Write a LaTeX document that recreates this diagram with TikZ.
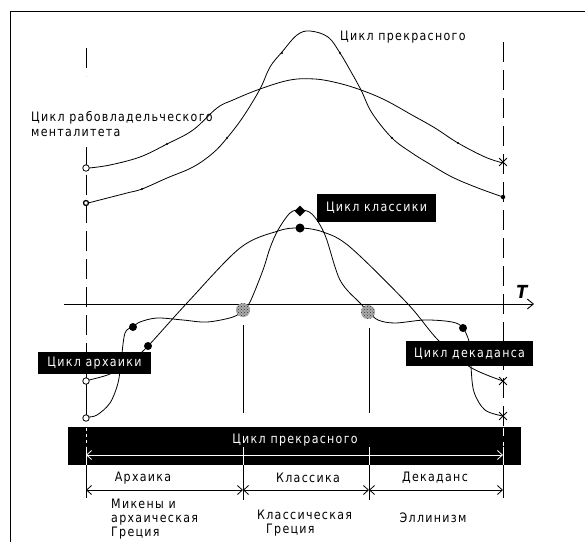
\documentclass[tikz,border=0pt]{standalone}
\usepackage{fontspec}
\setmainfont{DejaVu Sans}[FakeStretch=0.85,LetterSpace=10]
\newfontfamily\tfont{DejaVu Sans}[FakeStretch=0.9]
\usetikzlibrary{arrows.meta,shapes.geometric,shapes.misc,patterns}
\tikzset{
  crv/.style={line width=0.8pt},
  guide/.style={line width=0.9pt, dash pattern=on 20pt off 8pt},
  thin/.style={line width=0.8pt},
  opendot/.style={circle, draw, fill=white, inner sep=0pt, minimum size=6.5pt, line width=0.8pt},
  blackdot/.style={circle, fill=black, inner sep=0pt, minimum size=8pt},
  tinydot/.style={circle, fill=black, inner sep=0pt, minimum size=2.4pt},
  xmark/.style={cross out, draw, inner sep=0pt, minimum size=7pt, line width=0.8pt},
  greydot/.style={circle, fill=gray!65, postaction={pattern=crosshatch dots, pattern color=black!80}, inner sep=0pt, minimum size=14pt},
  darkbox/.style={fill=black, text=white, inner sep=0pt, font=\fontsize{13}{15}\selectfont},
  lbl/.style={inner sep=0pt, font=\fontsize{13}{15}\selectfont},
  dim/.style={line width=0.8pt, {Straight Barb[length=5pt,width=9pt]}-{Straight Barb[length=5pt,width=9pt]}},
}
\begin{document}
\begin{tikzpicture}[x=1pt,y=-1pt]
\useasboundingbox (0,0) rectangle (585,542);
% frame
\coordinate (fa) at (10,542);
\coordinate (fb) at (10,11);
\coordinate (fc) at (585,11);
\draw[line width=1pt] (fa) -- (fb) -- (fc);

% guide lines
\coordinate (lg0) at (86,48);
\coordinate (lg00) at (86,76);
\coordinate (lg1) at (86,147);
\coordinate (lg2) at (86,427);
\coordinate (rg1) at (503,42);
\coordinate (rg2) at (503,427);
\draw[guide] (lg0) -- (lg00);
\draw[guide] (lg1) -- (lg2);
\draw[guide] (rg1) -- (rg2);

% markers
\node[opendot] (m1) at (86,168) {};
\node[opendot, minimum size=5pt, line width=1.3pt] (m2) at (86,203) {};
\node[opendot] (m3) at (86,381) {};
\node[opendot] (m4) at (86,418) {};
\draw[thin] (m3) -- (m4);
\node[xmark] (e1) at (503,162) {};
\node[circle, fill=black, inner sep=0pt, minimum size=4.5pt] (e2) at (503,197) {};
\node[xmark] (e3) at (503,381) {};
\node[xmark] (e4) at (503,416) {};

% upper curves
\draw[crv] plot[smooth, tension=0.6] coordinates {(89,168) (110,165) (140,157) (167,144) (193,130) (217,108) (233,100) (260,89) (290,80) (315,79) (338,83) (361,90) (385,100) (412,115) (435,128) (458,143) (485,157) (503,163)};
\draw[crv] plot[smooth, tension=0.6] coordinates {(88,203) (127,193) (142,189) (167,178) (193,167) (213,153) (227,138) (243,117) (260,89) (270,67) (282,52) (297,35) (310,31) (328,37) (340,53) (350,70) (361,90) (372,113) (392,138) (412,153) (428,163) (452,177) (478,188) (503,197)};
\foreach \p/\n in {{(282,53)}/d1,{(340,53)}/d2,{(227,138)}/d3,{(392,138)}/d4,{(167,144)}/d5,{(142,189)}/d6,{(458,143)}/d7}
  \node[tinydot] (\n) at \p {};

% axis
\coordinate (ax1) at (64,304);
\coordinate (ax2) at (534,304);
\draw[line width=0.9pt, -{Straight Barb[length=6pt,width=10pt]}] (ax1) -- (ax2);
\node[inner sep=0pt, font=\tfont\bfseries\itshape\fontsize{18}{18}\selectfont] (T) at (522,292) {T};

% vertical lines
\coordinate (v1a) at (243,325);
\coordinate (v1b) at (243,413);
\coordinate (v2a) at (369,328);
\coordinate (v2b) at (369,413);
\draw[thin] (v1a) -- (v1b);
\draw[thin] (v2a) -- (v2b);

% lower curves
\draw[crv] plot[smooth, tension=0.55] coordinates {(89,380) (110,374) (130,362) (148,346) (187,303) (240,248) (278,231) (300,228) (323,232) (350,247) (407,303) (438,340) (470,367) (503,381)};
\draw[crv] plot[smooth, tension=0.55] coordinates {(88,417) (97,415) (110,403) (118,383) (121,362) (125,333) (133,327) (140,322) (157,318) (183,320) (207,322) (233,317) (243,310) (250,302) (263,270) (270,248) (278,230) (290,213) (300,210) (312,214) (325,235) (340,280) (360,303) (369,312) (378,320) (395,323) (425,320) (452,322) (463,328) (470,345) (471,367) (474,392) (485,410) (503,416)};

\node[greydot] (g1) at (243,310) {};
\node[greydot] (g2) at (368,312) {};
\node[blackdot] (b1) at (133,327) {};
\node[blackdot] (b2) at (148,346) {};
\node[blackdot] (b3) at (463,328) {};
\node[blackdot, minimum size=9pt] (b4) at (300,228) {};
\node[diamond, fill=black, inner sep=0pt, minimum size=11pt] (b5) at (300,211) {};

% labels
\node[lbl, anchor=west] (t1) at (340,37) {Цикл прекрасного};
\node[lbl, anchor=north west, align=left] (t2) at (31,111) {Цикл рабовладельческого\\менталитета};
\node[darkbox, minimum width=119pt, minimum height=28pt] (k1) at (376.5,208) {Цикл классики};
\node[darkbox, minimum width=113pt, minimum height=22pt] (k2) at (94.5,363) {Цикл архаики};
\node[darkbox, minimum width=127pt, minimum height=25pt] (k3) at (469.5,353.5) {Цикл декаданса};

% bar
\node[fill=black, minimum width=453pt, minimum height=38pt, inner sep=0pt] (bar) at (294.5,446) {};
\node[lbl, text=white] (bt) at (295,440) {Цикл прекрасного};
\coordinate (ba1) at (86,455);
\coordinate (ba2) at (503,455);
\draw[dim, white] (ba1) -- (ba2);
\foreach \x/\n in {86/wa,243/wb,369/wc,503/wd}{
  \coordinate (\n1) at (\x,447);
  \coordinate (\n2) at (\x,465);
  \draw[thin, white] (\n1) -- (\n2);
}
\coordinate (wt1) at (86,428);
\coordinate (wt2) at (86,446);
\coordinate (wt3) at (503,428);
\coordinate (wt4) at (503,446);
\draw[white, line width=0.8pt, dash pattern=on 3pt off 3pt] (wt1) -- (wt2);
\draw[white, line width=0.8pt, dash pattern=on 8pt off 6pt] (wt3) -- (wt4);

% dimension lines below bar
\foreach \x/\n/\e in {86/xa/498,243/xb/500,369/xc/500,503/xd/498}{
  \coordinate (\n1) at (\x,465);
  \coordinate (\n2) at (\x,\e);
  \draw[thin] (\n1) -- (\n2);
}
\coordinate (p1) at (86,490);
\coordinate (p2) at (243,490);
\coordinate (p3) at (369,490);
\coordinate (p4) at (503,490);
\draw[dim] (p1) -- (p2);
\draw[dim] (p2) -- (p3);
\draw[dim] (p3) -- (p4);
\node[lbl] (s1) at (143,478) {Архаика};
\node[lbl] (s2) at (308,478) {Классика};
\node[lbl] (s3) at (435,478) {Декаданс};

\node[lbl, anchor=north west, align=left, font=\fontsize{13}{14}\selectfont] (u1) at (111,499) {Микены и\\архаическая\\Греция};
\node[lbl, anchor=north west, align=left, font=\fontsize{13}{14}\selectfont] (u2) at (257,510) {Классическая\\\hspace{9pt}Греция};
\node[lbl] (u3) at (433,518) {Эллинизм};
\end{tikzpicture}
\end{document}
